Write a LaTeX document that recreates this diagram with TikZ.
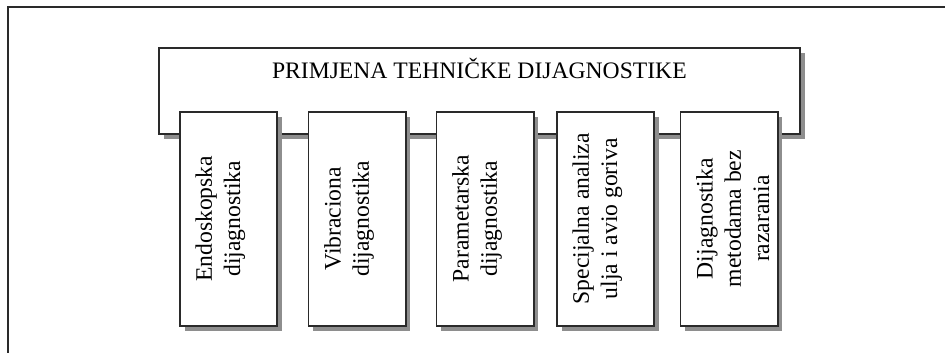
\documentclass[tikz,border=0pt]{standalone}
\usepackage{fontspec}
\setmainfont{Liberation Serif}
\usetikzlibrary{calc, positioning}
\usetikzlibrary{shadows}
\definecolor{linegray}{HTML}{2A2A2A}
\definecolor{shadegray}{HTML}{8E8E8E}
\def\bw{2.425cm}
\def\bh{5.35cm}
\tikzset{
    boxshadow/.style = {
        drop shadow={shadow xshift=3.5pt, shadow yshift=-3.5pt, fill=shadegray, opacity=1}
    },
    titlebox/.style = {
        draw=linegray, fill=white, rectangle, line width=1.4pt, boxshadow,
        minimum width=16.03cm, minimum height=2.16cm, inner sep=0pt
    },
    branchbox/.style = {
        draw=linegray, fill=white, rectangle, line width=1.4pt, boxshadow,
        minimum width=\bw, minimum height=\bh, inner sep=0pt
    },
    branchtext/.style = {
        rotate=90, anchor=north, align=center, inner sep=0pt
    },
}

\begin{document}
\begin{tikzpicture}[x=0.025cm, y=-0.025cm, font=\fontsize{16.8pt}{20.1pt}\selectfont]
        \useasboundingbox (0,0) rectangle (945,353);

        % Frame
        \draw[linegray, line width=1pt] (8,353) -- (8,7) -- (945,7);

        % Title block
        \node[titlebox] (title) at (479.4,90.9) {};
        \node[anchor=base] (titletext) at (479.4,78.3) {PRIMJENA TEHNIČKE DIJAGNOSTIKE};

        % Branches
        \foreach \x/\nm/\txt in {
            228.3/endo/{Endoskopska\\dijagnostika},
            357.0/vibr/{Vibraciona\\dijagnostika},
            485.0/param/{Parametarska\\dijagnostika},
            605.2/ulja/{Specijalna analiza\\ulja i avio goriva},
            729.0/nda/{Dijagnostika\\metodama bez\\razarania}}{
            \node[branchbox] (\nm) at (\x,218.7) {};
            \node[branchtext] (\nm-text) at ([xshift=0.41cm]\nm.west) {\txt};
        }
    \end{tikzpicture}
\end{document}
